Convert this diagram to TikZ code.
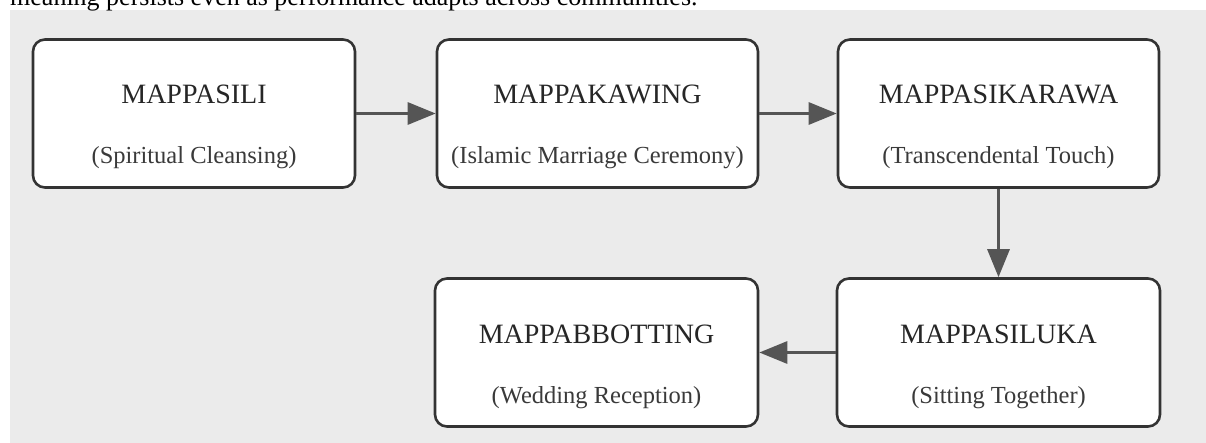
\documentclass[tikz,border=0pt]{standalone}
\usepackage{fontspec}
\setmainfont{Liberation Serif}
\usetikzlibrary{arrows.meta}
\definecolor{bgc}{HTML}{EBEBEB}
\definecolor{boxc}{HTML}{333333}
\definecolor{arrc}{HTML}{555555}
\definecolor{txtc}{HTML}{262626}
\definecolor{subc}{HTML}{3A3A3A}
\begin{document}
\begin{tikzpicture}[x=1pt,y=-1pt,
  box/.style={draw=boxc, line width=2.6pt, rounded corners=12pt, fill=white,
              minimum height=148pt, inner sep=0pt},
  titletext/.style={anchor=base, text=txtc, inner sep=0pt, font=\fontsize{28}{30}\selectfont},
  subtext/.style={anchor=base, text=subc, inner sep=0pt, font=\fontsize{24.5}{27}\selectfont},
  arr/.style={draw=arrc, line width=3pt, -{Triangle[length=28pt,width=22pt]}}]
\useasboundingbox (0,0) rectangle (1206,443);
\clip (0,0) rectangle (1206,443);
\fill[bgc] (10,10) rectangle (1206,443);
\node[anchor=base west, inner sep=0pt, text=black, font=\fontsize{26}{28}\selectfont] (cap) at (10,6)
  {meaning persists even as performance adapts across communities.};
% boxes
\node[box, minimum width=322pt] (b1) at (194,113.5) {};
\node[box, minimum width=321pt] (b2) at (597.5,113.5) {};
\node[box, minimum width=321pt] (b3) at (998.5,113.5) {};
\node[box, minimum width=323pt] (b4) at (998.5,352.5) {};
\node[box, minimum width=323pt] (b5) at (596.5,352.5) {};
% texts
\node[titletext] (t1) at ([yshift=9.5pt]b1.center) {MAPPASILI};
\node[subtext]   (s1) at ([yshift=-50.5pt]b1.center) {(Spiritual Cleansing)};
\node[titletext] (t2) at ([yshift=9.5pt]b2.center) {MAPPAKAWING};
\node[subtext]   (s2) at ([yshift=-50.5pt]b2.center) {(Islamic Marriage Ceremony)};
\node[titletext] (t3) at ([yshift=9.5pt]b3.center) {MAPPASIKARAWA};
\node[subtext]   (s3) at ([yshift=-50.5pt]b3.center) {(Transcendental Touch)};
\node[titletext] (t4) at ([yshift=9.5pt]b4.center) {MAPPASILUKA};
\node[subtext]   (s4) at ([yshift=-50.5pt]b4.center) {(Sitting Together)};
\node[titletext] (t5) at ([yshift=9.5pt]b5.center) {MAPPABBOTTING};
\node[subtext]   (s5) at ([yshift=-50.5pt]b5.center) {(Wedding Reception)};
% arrows
\draw[arr] (b1.east) -- (b2.west);
\draw[arr] (b2.east) -- (b3.west);
\draw[arr] (b3.south) -- (b4.north);
\draw[arr] (b4.west) -- (b5.east);
\end{tikzpicture}
\end{document}
